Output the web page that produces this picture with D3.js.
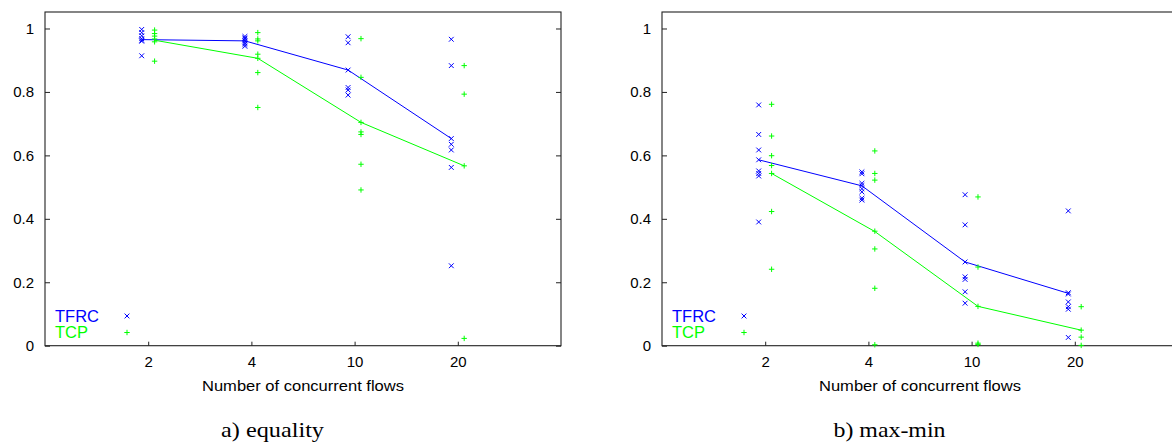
<!DOCTYPE html>
<html>
<head>
<meta charset="utf-8">
<script src="https://cdn.jsdelivr.net/npm/d3@7"></script>
<style>
  html, body { margin: 0; padding: 0; background: #ffffff; }
  svg { display: block; }
</style>
</head>
<body>
<svg id="chart" width="1172" height="446"></svg>
<script>
// ---------- data ----------
const flows = ["2", "4", "10", "20"];
const yTickValues = [0, 0.2, 0.4, 0.6, 0.8, 1];
const yTickLabels = ["0", "0.2", "0.4", "0.6", "0.8", "1"];
const seriesNames = ["TFRC", "TCP"];
const seriesColors = ["#0000ff", "#00ff00"];
const xLabel = "Number of concurrent flows";
const captions = ["a) equality", "b) max-min"];

// a) equality – individual runs
const eqTFRC = [
  [0.997, 0.987, 0.977, 0.968, 0.963, 0.960, 0.914],
  [0.975, 0.970, 0.966, 0.961, 0.955, 0.950, 0.944],
  [0.974, 0.955, 0.869, 0.814, 0.806, 0.790],
  [0.966, 0.883, 0.653, 0.635, 0.617, 0.562, 0.252]
];
const eqTCP = [
  [0.995, 0.984, 0.976, 0.967, 0.958, 0.897],
  [0.987, 0.967, 0.961, 0.919, 0.906, 0.861, 0.751],
  [0.968, 0.846, 0.704, 0.674, 0.666, 0.572, 0.491],
  [0.883, 0.793, 0.567, 0.023]
];
// a) equality – connecting line values
const eqTFRCLine = [0.965, 0.961, 0.869, 0.653];
const eqTCPLine = [0.963, 0.906, 0.704, 0.567];

// b) max-min – individual runs
const mmTFRC = [
  [0.759, 0.666, 0.617, 0.586, 0.551, 0.543, 0.535, 0.390],
  [0.548, 0.542, 0.512, 0.505, 0.495, 0.485, 0.465, 0.459],
  [0.476, 0.381, 0.264, 0.217, 0.209, 0.170, 0.134],
  [0.425, 0.167, 0.163, 0.138, 0.123, 0.115, 0.026]
];
const mmTCP = [
  [0.761, 0.661, 0.599, 0.568, 0.543, 0.423, 0.241],
  [0.614, 0.543, 0.522, 0.361, 0.305, 0.181, 0.003],
  [0.469, 0.248, 0.124, 0.008, 0.004],
  [0.123, 0.049, 0.027, 0.001]
];
// b) max-min – connecting line values
const mmTFRCLine = [0.586, 0.504, 0.264, 0.165];
const mmTCPLine = [0.543, 0.360, 0.124, 0.049];

// ---------- drawing ----------
const svg = d3.select("#chart");
const FONT = "'Liberation Sans', Arial, Helvetica, sans-serif";
const SERIF = "'Liberation Serif', 'Times New Roman', Times, serif";

const panels = [
  { left: 45, runs: [eqTFRC, eqTCP], lines: [eqTFRCLine, eqTCPLine], caption: captions[0], capW: 103 },
  { left: 662, runs: [mmTFRC, mmTCP], lines: [mmTFRCLine, mmTCPLine], caption: captions[1], capW: 112 }
];

const plotW = 516, plotTop = 12, plotBottom = 345.7;
const offsets = [-0.063, 0.062];

function drawMarker(g, kind, cx, cy, color) {
  const s = 2.4;
  if (kind === 0) {
    g.append("path")
      .attr("d", `M${cx - s},${cy - s}L${cx + s},${cy + s}M${cx - s},${cy + s}L${cx + s},${cy - s}`)
      .attr("stroke", color).attr("stroke-width", 1).attr("fill", "none");
  } else {
    g.append("path")
      .attr("d", `M${cx - 2.7},${cy}L${cx + 2.7},${cy}M${cx},${cy - 2.7}L${cx},${cy + 2.7}`)
      .attr("stroke", color).attr("stroke-width", 1).attr("fill", "none");
  }
}

panels.forEach(p => {
  const x = d3.scaleLinear().domain([0, 5]).range([p.left, p.left + plotW]);
  const y = d3.scaleLinear().domain([0, 1.052]).range([plotBottom, plotTop]);
  const g = svg.append("g");

  // frame
  g.append("rect")
    .attr("x", x(0)).attr("y", y(1.052))
    .attr("width", x(5) - x(0)).attr("height", y(0) - y(1.052))
    .attr("fill", "none").attr("stroke", "#222").attr("stroke-width", 1.1);

  // y axis (left) with labels
  const yAxis = d3.axisLeft(y).tickValues(yTickValues)
    .tickFormat((d, i) => yTickLabels[i])
    .tickSizeInner(-5).tickSizeOuter(0).tickPadding(11);
  const ya = g.append("g").attr("transform", `translate(${x(0)},0)`).call(yAxis);
  ya.select(".domain").remove();
  ya.selectAll("text").attr("font-family", FONT).attr("font-size", 15).attr("fill", "#000");
  ya.selectAll("line").attr("stroke", "#222");

  // y axis mirror (right)
  const yAxisR = d3.axisRight(y).tickValues(yTickValues).tickFormat("")
    .tickSizeInner(-5).tickSizeOuter(0);
  const yr = g.append("g").attr("transform", `translate(${x(5)},0)`).call(yAxisR);
  yr.select(".domain").remove();
  yr.selectAll("line").attr("stroke", "#222");

  // x axis
  const xAxis = d3.axisBottom(x).tickValues([1, 2, 3, 4])
    .tickFormat((d, i) => flows[i])
    .tickSizeInner(-4).tickSizeOuter(0).tickPadding(11);
  const xa = g.append("g").attr("transform", `translate(0,${y(0)})`).call(xAxis);
  xa.select(".domain").remove();
  xa.selectAll("text").attr("font-family", FONT).attr("font-size", 15).attr("fill", "#000");
  xa.selectAll("line").attr("stroke", "#222");

  // x label
  g.append("text")
    .attr("x", (x(0) + x(5)) / 2).attr("y", 391)
    .attr("text-anchor", "middle")
    .attr("font-family", FONT).attr("font-size", 15).attr("fill", "#000")
    .attr("textLength", 202).attr("lengthAdjust", "spacingAndGlyphs")
    .text(xLabel);

  // caption
  g.append("text")
    .attr("x", x(0) + 227.5).attr("y", 437)
    .attr("text-anchor", "middle")
    .attr("font-family", SERIF).attr("font-size", 22).attr("fill", "#000")
    .attr("textLength", p.capW).attr("lengthAdjust", "spacingAndGlyphs")
    .text(p.caption);

  // series
  [0, 1].forEach(s => {
    const color = seriesColors[s];
    const lineGen = d3.line().x((d, i) => x(i + 1 + offsets[s])).y(d => y(d));
    g.append("path").datum(p.lines[s])
      .attr("d", lineGen).attr("fill", "none")
      .attr("stroke", color).attr("stroke-width", 1);
    p.runs[s].forEach((vals, i) => {
      vals.forEach(v => drawMarker(g, s, x(i + 1 + offsets[s]), y(v), color));
    });
    // legend
    g.append("text")
      .attr("x", x(0) + 10).attr("y", 322 + s * 16)
      .attr("font-family", FONT).attr("font-size", 16.5).attr("fill", color)
      .text(seriesNames[s]);
    drawMarker(g, s, x(0) + 82, 316 + s * 16.5, color);
  });
});
</script>
</body>
</html>
